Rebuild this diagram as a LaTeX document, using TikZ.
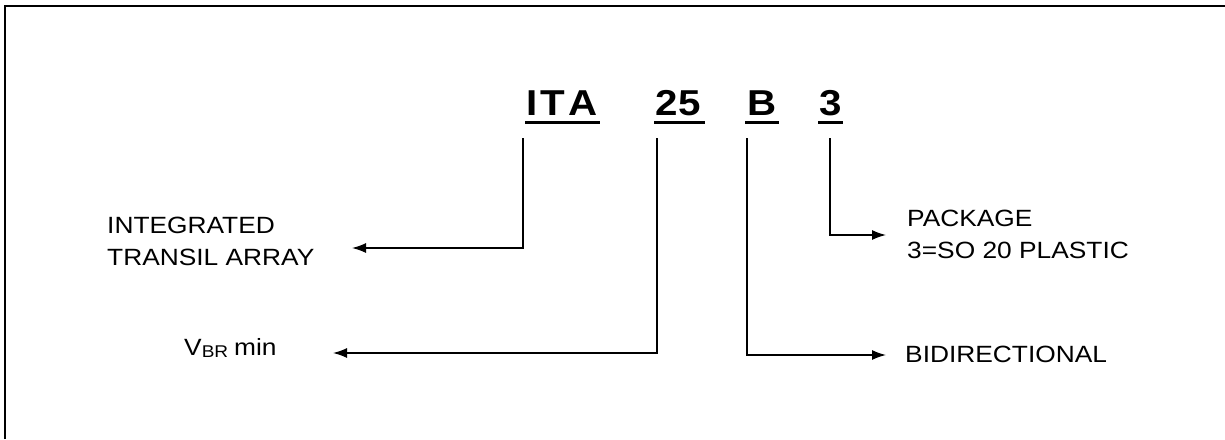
\documentclass[tikz,border=0pt]{standalone}
\usepackage{fontspec}
\setmainfont{Liberation Sans}[FakeStretch=1.12]
\usetikzlibrary{arrows.meta}

\begin{document}
\begin{tikzpicture}[x=1pt,y=-1pt,
    code/.style={inner sep=0pt, anchor=base, font=\fontsize{36}{36}\selectfont\bfseries},
    uline/.style={line width=3pt},
    label/.style={inner sep=0pt, align=left, font=\fontsize{23.5}{32}\selectfont},
    tap/.style={line width=1.4pt, -{Latex[length=14pt,width=10pt]}}]
                \useasboundingbox (0,0) rectangle (1225,439);
                % frame
                \draw[line width=2.5pt] (5,439) |- (1225,6);

                % part number
                \node[code] (ita) at (562,115) {I\kern3pt T\kern3pt A};
                \node[code] (vbr) at (678,115) {2\kern1pt 5};
                \node[code] (bid) at (762,115) {B};
                \node[code] (pkg) at (831,115) {3};
                \draw[uline] (525,122) -- (600,122);
                \draw[uline] (654,122) -- (705,122);
                \draw[uline] (745,122) -- (779,122);
                \draw[uline] (818,122) -- (843,122);

                % meanings
                \node[label, anchor=north west] (ita-txt) at (107,217) {INTEGRATED\\TRANSIL ARRAY};
                \node[label, anchor=base west] (vbr-txt) at (184,355) {V\raisebox{-2pt}{\fontsize{17}{17}\selectfont BR}\kern6pt min};
                \node[label, anchor=base west] (bid-txt) at (905,362) {BIDIRECTIONAL};
                \node[label, anchor=north west] (pkg-txt) at (907,210) {PACKAGE\\3=SO 20 PLASTIC};

                % taps and arrow ends
                \coordinate (ita-tap) at (523,138);
                \coordinate (vbr-tap) at (657,138);
                \coordinate (bid-tap) at (747,138);
                \coordinate (pkg-tap) at (830,138);
                \coordinate (ita-end) at (352,248);
                \coordinate (vbr-end) at (333,353);
                \coordinate (bid-end) at (886,355);
                \coordinate (pkg-end) at (886,235);

                \draw[tap] (ita-tap) |- (ita-end);
                \draw[tap] (vbr-tap) |- (vbr-end);
                \draw[tap] (bid-tap) |- (bid-end);
                \draw[tap] (pkg-tap) |- (pkg-end);
            \end{tikzpicture}
\end{document}
